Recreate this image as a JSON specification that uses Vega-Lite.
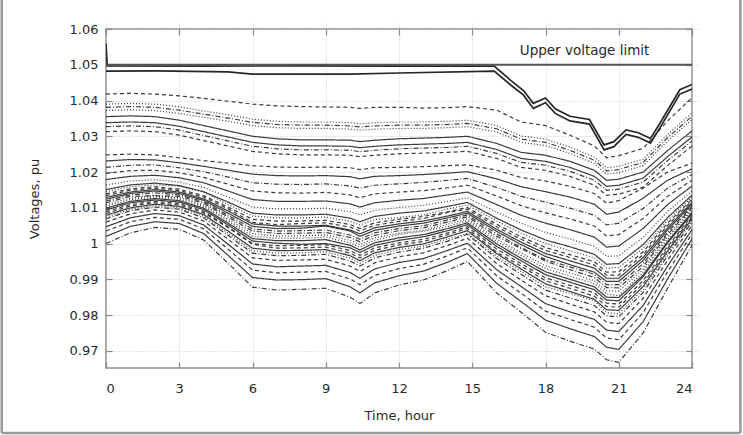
{
"$schema": "https://vega.github.io/schema/vega-lite/v6.json",
"width": 586, "height": 339,
"autosize": {"type": "none"},
"padding": {"left": 106, "top": 29, "right": 51, "bottom": 67},
"background": "white",
"config": {
 "font": "DejaVu Sans",
 "view": {"stroke": "#8a8a8a", "strokeWidth": 1.5},
 "axis": {"domain": false, "grid": true, "gridColor": "#c8c8c8", "gridDash": [1, 2], "gridWidth": 1, "ticks": true, "tickSize": 6, "offset": -6, "tickColor": "#888", "tickWidth": 1.2, "labelFontSize": 13, "labelColor": "#2a2a2a", "titleFontSize": 13, "titleFontWeight": "normal", "titleColor": "#2a2a2a", "labelFont": "DejaVu Sans", "titleFont": "DejaVu Sans"}
},
"resolve": {"axis": {"x": "independent", "y": "independent"}},
"datasets": {
 "lower": [
  {"t":0,"u1":1.0418,"u2":1.0390,"u3":1.0381,"u4":1.0372,"u5":1.0355,"u6":1.0338,"u7":1.0327,"u8":1.0313,"a1":1.0248,"a2":1.0231,"a3":1.0213,"a4":1.0196,"a5":1.0179,"a6":1.0164,"a7":1.0151,"a8":1.0139,"a9":1.0129,"a10":1.0119,"a11":1.0109,"a12":1.0099,"a13":1.0089,"a14":1.0079,"a15":1.0069,"a16":1.0060,"a17":1.0047,"a18":1.0035,"a19":1.0020,"a20":1.0000,"b1":1.0145,"b2":1.0134,"b3":1.0124,"b4":1.0114,"b5":1.0104,"b6":1.0094,"b7":1.0084,"b8":1.0074},
  {"t":1,"u1":1.0420,"u2":1.0392,"u3":1.0383,"u4":1.0374,"u5":1.0357,"u6":1.0340,"u7":1.0329,"u8":1.0315,"a1":1.0250,"a2":1.0235,"a3":1.0219,"a4":1.0204,"a5":1.0188,"a6":1.0175,"a7":1.0164,"a8":1.0153,"a9":1.0144,"a10":1.0136,"a11":1.0127,"a12":1.0118,"a13":1.0109,"a14":1.0100,"a15":1.0092,"a16":1.0083,"a17":1.0072,"a18":1.0061,"a19":1.0048,"a20":1.0030,"b1":1.0159,"b2":1.0149,"b3":1.0140,"b4":1.0132,"b5":1.0123,"b6":1.0114,"b7":1.0105,"b8":1.0096},
  {"t":2,"u1":1.0418,"u2":1.0390,"u3":1.0381,"u4":1.0372,"u5":1.0355,"u6":1.0338,"u7":1.0327,"u8":1.0313,"a1":1.0248,"a2":1.0234,"a3":1.0220,"a4":1.0205,"a5":1.0191,"a6":1.0179,"a7":1.0169,"a8":1.0159,"a9":1.0151,"a10":1.0142,"a11":1.0134,"a12":1.0126,"a13":1.0118,"a14":1.0110,"a15":1.0102,"a16":1.0094,"a17":1.0084,"a18":1.0073,"a19":1.0061,"a20":1.0045,"b1":1.0164,"b2":1.0155,"b3":1.0147,"b4":1.0134,"b5":1.0130,"b6":1.0122,"b7":1.0114,"b8":1.0106},
  {"t":3,"u1":1.0413,"u2":1.0382,"u3":1.0373,"u4":1.0364,"u5":1.0345,"u6":1.0328,"u7":1.0317,"u8":1.0303,"a1":1.0240,"a2":1.0226,"a3":1.0212,"a4":1.0198,"a5":1.0184,"a6":1.0172,"a7":1.0162,"a8":1.0152,"a9":1.0144,"a10":1.0136,"a11":1.0128,"a12":1.0120,"a13":1.0112,"a14":1.0104,"a15":1.0096,"a16":1.0088,"a17":1.0078,"a18":1.0068,"a19":1.0056,"a20":1.0040,"b1":1.0161,"b2":1.0148,"b3":1.0140,"b4":1.0132,"b5":1.0124,"b6":1.0116,"b7":1.0108,"b8":1.0100},
  {"t":4,"u1":1.0406,"u2":1.0371,"u3":1.0362,"u4":1.0353,"u5":1.0330,"u6":1.0313,"u7":1.0302,"u8":1.0288,"a1":1.0232,"a2":1.0216,"a3":1.0201,"a4":1.0185,"a5":1.0170,"a6":1.0157,"a7":1.0145,"a8":1.0134,"a9":1.0125,"a10":1.0117,"a11":1.0108,"a12":1.0099,"a13":1.0090,"a14":1.0081,"a15":1.0072,"a16":1.0063,"a17":1.0052,"a18":1.0041,"a19":1.0028,"a20":1.0010,"b1":1.0144,"b2":1.0130,"b3":1.0121,"b4":1.0113,"b5":1.0104,"b6":1.0095,"b7":1.0086,"b8":1.0077},
  {"t":5,"u1":1.0398,"u2":1.0360,"u3":1.0351,"u4":1.0342,"u5":1.0315,"u6":1.0298,"u7":1.0287,"u8":1.0273,"a1":1.0225,"a2":1.0205,"a3":1.0186,"a4":1.0166,"a5":1.0147,"a6":1.0130,"a7":1.0116,"a8":1.0102,"a9":1.0091,"a10":1.0079,"a11":1.0068,"a12":1.0057,"a13":1.0046,"a14":1.0035,"a15":1.0023,"a16":1.0012,"a17":0.9998,"a18":0.9984,"a19":0.9967,"a20":0.9945,"b1":1.0109,"b2":1.0097,"b3":1.0085,"b4":1.0074,"b5":1.0063,"b6":1.0052,"b7":1.0045,"b8":1.0029},
  {"t":6,"u1":1.0390,"u2":1.0348,"u3":1.0339,"u4":1.0330,"u5":1.0300,"u6":1.0283,"u7":1.0272,"u8":1.0258,"a1":1.0218,"a2":1.0194,"a3":1.0170,"a4":1.0147,"a5":1.0123,"a6":1.0102,"a7":1.0085,"a8":1.0068,"a9":1.0055,"a10":1.0041,"a11":1.0028,"a12":1.0014,"a13":1.0000,"a14":0.9987,"a15":0.9973,"a16":0.9960,"a17":0.9943,"a18":0.9926,"a19":0.9905,"a20":0.9878,"b1":1.0077,"b2":1.0059,"b3":1.0048,"b4":1.0035,"b5":1.0021,"b6":1.0007,"b7":0.9998,"b8":0.9980},
  {"t":7,"u1":1.0385,"u2":1.0342,"u3":1.0333,"u4":1.0324,"u5":1.0293,"u6":1.0276,"u7":1.0265,"u8":1.0251,"a1":1.0214,"a2":1.0190,"a3":1.0166,"a4":1.0142,"a5":1.0118,"a6":1.0097,"a7":1.0080,"a8":1.0063,"a9":1.0049,"a10":1.0035,"a11":1.0021,"a12":1.0008,"a13":0.9994,"a14":0.9980,"a15":0.9966,"a16":0.9953,"a17":0.9935,"a18":0.9918,"a19":0.9898,"a20":0.9870,"b1":1.0072,"b2":1.0053,"b3":1.0042,"b4":1.0028,"b5":1.0015,"b6":1.0001,"b7":0.9987,"b8":0.9973},
  {"t":8,"u1":1.0383,"u2":1.0340,"u3":1.0331,"u4":1.0322,"u5":1.0290,"u6":1.0273,"u7":1.0262,"u8":1.0248,"a1":1.0213,"a2":1.0189,"a3":1.0165,"a4":1.0141,"a5":1.0118,"a6":1.0097,"a7":1.0080,"a8":1.0063,"a9":1.0049,"a10":1.0036,"a11":1.0022,"a12":1.0008,"a13":0.9995,"a14":0.9981,"a15":0.9967,"a16":0.9954,"a17":0.9937,"a18":0.9920,"a19":0.9899,"a20":0.9872,"b1":1.0072,"b2":1.0056,"b3":1.0043,"b4":1.0029,"b5":1.0015,"b6":0.9998,"b7":0.9988,"b8":0.9974},
  {"t":9,"u1":1.0382,"u2":1.0340,"u3":1.0331,"u4":1.0322,"u5":1.0290,"u6":1.0273,"u7":1.0262,"u8":1.0248,"a1":1.0214,"a2":1.0190,"a3":1.0167,"a4":1.0143,"a5":1.0119,"a6":1.0099,"a7":1.0082,"a8":1.0065,"a9":1.0051,"a10":1.0038,"a11":1.0024,"a12":1.0011,"a13":0.9997,"a14":0.9983,"a15":0.9970,"a16":0.9956,"a17":0.9939,"a18":0.9922,"a19":0.9902,"a20":0.9875,"b1":1.0074,"b2":1.0058,"b3":1.0049,"b4":1.0031,"b5":1.0018,"b6":1.0000,"b7":0.9990,"b8":0.9977},
  {"t":10,"u1":1.0381,"u2":1.0338,"u3":1.0329,"u4":1.0320,"u5":1.0289,"u6":1.0272,"u7":1.0261,"u8":1.0247,"a1":1.0212,"a2":1.0187,"a3":1.0161,"a4":1.0136,"a5":1.0111,"a6":1.0089,"a7":1.0071,"a8":1.0053,"a9":1.0038,"a10":1.0024,"a11":1.0009,"a12":0.9995,"a13":0.9980,"a14":0.9966,"a15":0.9951,"a16":0.9937,"a17":0.9919,"a18":0.9901,"a19":0.9879,"a20":0.9850,"b1":1.0062,"b2":1.0046,"b3":1.0035,"b4":1.0017,"b5":1.0002,"b6":0.9988,"b7":0.9973,"b8":0.9959},
  {"t":10.4,"u1":1.0378,"u2":1.0335,"u3":1.0326,"u4":1.0317,"u5":1.0285,"u6":1.0268,"u7":1.0257,"u8":1.0243,"a1":1.0207,"a2":1.0181,"a3":1.0155,"a4":1.0128,"a5":1.0102,"a6":1.0080,"a7":1.0061,"a8":1.0042,"a9":1.0027,"a10":1.0012,"a11":0.9997,"a12":0.9982,"a13":0.9967,"a14":0.9952,"a15":0.9937,"a16":0.9922,"a17":0.9903,"a18":0.9885,"a19":0.9862,"a20":0.9832,"b1":1.0052,"b2":1.0035,"b3":1.0020,"b4":1.0005,"b5":0.9990,"b6":0.9975,"b7":0.9960,"b8":0.9945},
  {"t":11,"u1":1.0381,"u2":1.0338,"u3":1.0329,"u4":1.0320,"u5":1.0289,"u6":1.0272,"u7":1.0261,"u8":1.0247,"a1":1.0212,"a2":1.0188,"a3":1.0163,"a4":1.0139,"a5":1.0114,"a6":1.0093,"a7":1.0076,"a8":1.0058,"a9":1.0044,"a10":1.0030,"a11":1.0016,"a12":1.0002,"a13":0.9988,"a14":0.9974,"a15":0.9960,"a16":0.9946,"a17":0.9929,"a18":0.9911,"a19":0.9890,"a20":0.9862,"b1":1.0067,"b2":1.0051,"b3":1.0037,"b4":1.0023,"b5":1.0009,"b6":0.9995,"b7":0.9981,"b8":0.9967},
  {"t":12,"u1":1.0381,"u2":1.0340,"u3":1.0331,"u4":1.0322,"u5":1.0293,"u6":1.0276,"u7":1.0265,"u8":1.0251,"a1":1.0213,"a2":1.0190,"a3":1.0167,"a4":1.0144,"a5":1.0121,"a6":1.0101,"a7":1.0085,"a8":1.0068,"a9":1.0055,"a10":1.0042,"a11":1.0029,"a12":1.0016,"a13":1.0002,"a14":0.9989,"a15":0.9976,"a16":0.9963,"a17":0.9947,"a18":0.9930,"a19":0.9910,"a20":0.9884,"b1":1.0073,"b2":1.0062,"b3":1.0049,"b4":1.0036,"b5":1.0026,"b6":1.0009,"b7":0.9996,"b8":0.9983},
  {"t":13,"u1":1.0379,"u2":1.0340,"u3":1.0331,"u4":1.0322,"u5":1.0295,"u6":1.0278,"u7":1.0267,"u8":1.0253,"a1":1.0215,"a2":1.0193,"a3":1.0171,"a4":1.0148,"a5":1.0126,"a6":1.0107,"a7":1.0091,"a8":1.0076,"a9":1.0063,"a10":1.0050,"a11":1.0037,"a12":1.0025,"a13":1.0012,"a14":0.9999,"a15":0.9987,"a16":0.9974,"a17":0.9958,"a18":0.9942,"a19":0.9923,"a20":0.9898,"b1":1.0080,"b2":1.0070,"b3":1.0057,"b4":1.0044,"b5":1.0034,"b6":1.0019,"b7":1.0006,"b8":0.9993},
  {"t":14,"u1":1.0380,"u2":1.0342,"u3":1.0333,"u4":1.0324,"u5":1.0297,"u6":1.0280,"u7":1.0269,"u8":1.0255,"a1":1.0218,"a2":1.0197,"a3":1.0177,"a4":1.0156,"a5":1.0136,"a6":1.0118,"a7":1.0104,"a8":1.0089,"a9":1.0077,"a10":1.0066,"a11":1.0054,"a12":1.0042,"a13":1.0030,"a14":1.0019,"a15":1.0007,"a16":0.9995,"a17":0.9981,"a18":0.9966,"a19":0.9948,"a20":0.9925,"b1":1.0097,"b2":1.0087,"b3":1.0072,"b4":1.0060,"b5":1.0048,"b6":1.0036,"b7":1.0025,"b8":1.0013},
  {"t":14.8,"u1":1.0383,"u2":1.0345,"u3":1.0336,"u4":1.0327,"u5":1.0300,"u6":1.0283,"u7":1.0272,"u8":1.0258,"a1":1.0220,"a2":1.0201,"a3":1.0182,"a4":1.0163,"a5":1.0144,"a6":1.0128,"a7":1.0115,"a8":1.0101,"a9":1.0090,"a10":1.0080,"a11":1.0069,"a12":1.0058,"a13":1.0047,"a14":1.0036,"a15":1.0026,"a16":1.0015,"a17":1.0001,"a18":0.9988,"a19":0.9972,"a20":0.9950,"b1":1.0108,"b2":1.0096,"b3":1.0085,"b4":1.0075,"b5":1.0064,"b6":1.0053,"b7":1.0042,"b8":1.0028},
  {"t":16,"u1":1.0373,"u2":1.0330,"u3":1.0321,"u4":1.0312,"u5":1.0280,"u6":1.0263,"u7":1.0252,"u8":1.0238,"a1":1.0205,"a2":1.0181,"a3":1.0157,"a4":1.0133,"a5":1.0109,"a6":1.0088,"a7":1.0071,"a8":1.0054,"a9":1.0040,"a10":1.0027,"a11":1.0013,"a12":0.9999,"a13":0.9985,"a14":0.9972,"a15":0.9958,"a16":0.9944,"a17":0.9927,"a18":0.9910,"a19":0.9889,"a20":0.9862,"b1":1.0063,"b2":1.0047,"b3":1.0034,"b4":1.0020,"b5":1.0006,"b6":0.9992,"b7":0.9976,"b8":0.9965},
  {"t":17,"u1":1.0340,"u2":1.0301,"u3":1.0292,"u4":1.0283,"u5":1.0255,"u6":1.0238,"u7":1.0227,"u8":1.0213,"a1":1.0185,"a2":1.0159,"a3":1.0132,"a4":1.0106,"a5":1.0079,"a6":1.0057,"a7":1.0038,"a8":1.0019,"a9":1.0004,"a10":0.9989,"a11":0.9974,"a12":0.9959,"a13":0.9944,"a14":0.9929,"a15":0.9914,"a16":0.9898,"a17":0.9880,"a18":0.9861,"a19":0.9838,"a20":0.9808,"b1":1.0029,"b2":1.0012,"b3":0.9997,"b4":0.9986,"b5":0.9967,"b6":0.9952,"b7":0.9937,"b8":0.9922},
  {"t":18,"u1":1.0330,"u2":1.0292,"u3":1.0283,"u4":1.0274,"u5":1.0247,"u6":1.0230,"u7":1.0219,"u8":1.0205,"a1":1.0175,"a2":1.0145,"a3":1.0116,"a4":1.0086,"a5":1.0057,"a6":1.0031,"a7":1.0010,"a8":0.9989,"a9":0.9972,"a10":0.9955,"a11":0.9938,"a12":0.9921,"a13":0.9904,"a14":0.9887,"a15":0.9870,"a16":0.9854,"a17":0.9832,"a18":0.9811,"a19":0.9786,"a20":0.9752,"b1":1.0000,"b2":0.9981,"b3":0.9964,"b4":0.9951,"b5":0.9930,"b6":0.9913,"b7":0.9896,"b8":0.9879},
  {"t":19,"u1":1.0303,"u2":1.0270,"u3":1.0261,"u4":1.0252,"u5":1.0230,"u6":1.0213,"u7":1.0202,"u8":1.0188,"a1":1.0160,"a2":1.0130,"a3":1.0099,"a4":1.0069,"a5":1.0039,"a6":1.0013,"a7":0.9991,"a8":0.9969,"a9":0.9952,"a10":0.9935,"a11":0.9918,"a12":0.9900,"a13":0.9883,"a14":0.9866,"a15":0.9848,"a16":0.9831,"a17":0.9809,"a18":0.9788,"a19":0.9762,"a20":0.9727,"b1":0.9980,"b2":0.9961,"b3":0.9941,"b4":0.9927,"b5":0.9909,"b6":0.9892,"b7":0.9875,"b8":0.9861},
  {"t":20,"u1":1.0273,"u2":1.0242,"u3":1.0233,"u4":1.0224,"u5":1.0205,"u6":1.0188,"u7":1.0177,"u8":1.0163,"a1":1.0140,"a2":1.0110,"a3":1.0079,"a4":1.0049,"a5":1.0018,"a6":0.9992,"a7":0.9970,"a8":0.9949,"a9":0.9931,"a10":0.9914,"a11":0.9896,"a12":0.9879,"a13":0.9862,"a14":0.9844,"a15":0.9827,"a16":0.9809,"a17":0.9788,"a18":0.9766,"a19":0.9740,"a20":0.9705,"b1":0.9960,"b2":0.9940,"b3":0.9920,"b4":0.9905,"b5":0.9888,"b6":0.9871,"b7":0.9853,"b8":0.9840},
  {"t":20.5,"u1":1.0240,"u2":1.0212,"u3":1.0203,"u4":1.0194,"u5":1.0177,"u6":1.0160,"u7":1.0149,"u8":1.0135,"a1":1.0113,"a2":1.0082,"a3":1.0052,"a4":1.0021,"a5":0.9990,"a6":0.9964,"a7":0.9942,"a8":0.9920,"a9":0.9903,"a10":0.9885,"a11":0.9868,"a12":0.9850,"a13":0.9833,"a14":0.9815,"a15":0.9798,"a16":0.9780,"a17":0.9758,"a18":0.9736,"a19":0.9710,"a20":0.9675,"b1":0.9931,"b2":0.9912,"b3":0.9894,"b4":0.9877,"b5":0.9859,"b6":0.9842,"b7":0.9824,"b8":0.9807},
  {"t":21,"u1":1.0246,"u2":1.0216,"u3":1.0207,"u4":1.0198,"u5":1.0180,"u6":1.0163,"u7":1.0152,"u8":1.0138,"a1":1.0120,"a2":1.0088,"a3":1.0057,"a4":1.0025,"a5":0.9993,"a6":0.9966,"a7":0.9944,"a8":0.9921,"a9":0.9903,"a10":0.9885,"a11":0.9867,"a12":0.9849,"a13":0.9831,"a14":0.9813,"a15":0.9795,"a16":0.9776,"a17":0.9754,"a18":0.9731,"a19":0.9704,"a20":0.9668,"b1":0.9933,"b2":0.9912,"b3":0.9894,"b4":0.9876,"b5":0.9854,"b6":0.9840,"b7":0.9822,"b8":0.9804},
  {"t":22,"u1":1.0266,"u2":1.0236,"u3":1.0227,"u4":1.0218,"u5":1.0200,"u6":1.0183,"u7":1.0172,"u8":1.0158,"a1":1.0155,"a2":1.0127,"a3":1.0098,"a4":1.0070,"a5":1.0042,"a6":1.0017,"a7":0.9997,"a8":0.9977,"a9":0.9961,"a10":0.9944,"a11":0.9928,"a12":0.9912,"a13":0.9896,"a14":0.9880,"a15":0.9863,"a16":0.9847,"a17":0.9827,"a18":0.9807,"a19":0.9782,"a20":0.9750,"b1":0.9987,"b2":0.9969,"b3":0.9953,"b4":0.9936,"b5":0.9920,"b6":0.9907,"b7":0.9888,"b8":0.9872},
  {"t":23,"u1":1.0343,"u2":1.0305,"u3":1.0296,"u4":1.0287,"u5":1.0260,"u6":1.0243,"u7":1.0232,"u8":1.0218,"a1":1.0200,"a2":1.0177,"a3":1.0155,"a4":1.0132,"a5":1.0109,"a6":1.0090,"a7":1.0073,"a8":1.0057,"a9":1.0044,"a10":1.0031,"a11":1.0018,"a12":1.0005,"a13":0.9992,"a14":0.9979,"a15":0.9966,"a16":0.9953,"a17":0.9937,"a18":0.9921,"a19":0.9901,"a20":0.9875,"b1":1.0065,"b2":1.0051,"b3":1.0038,"b4":1.0025,"b5":1.0012,"b6":1.0002,"b7":0.9986,"b8":0.9973},
  {"t":24,"u1":1.0408,"u2":1.0365,"u3":1.0356,"u4":1.0347,"u5":1.0315,"u6":1.0298,"u7":1.0287,"u8":1.0273,"a1":1.0225,"a2":1.0209,"a3":1.0193,"a4":1.0177,"a5":1.0161,"a6":1.0147,"a7":1.0135,"a8":1.0124,"a9":1.0115,"a10":1.0105,"a11":1.0096,"a12":1.0087,"a13":1.0078,"a14":1.0069,"a15":1.0060,"a16":1.0051,"a17":1.0039,"a18":1.0027,"a19":1.0013,"a20":0.9995,"b1":1.0130,"b2":1.0120,"b3":1.0110,"b4":1.0101,"b5":1.0092,"b6":1.0083,"b7":1.0074,"b8":1.0065}
 ],
 "top": [
  {"s":"L1","t":0,"v":1.056},{"s":"L1","t":0.05,"v":1.0497},{"s":"L1","t":4,"v":1.0496},{"s":"L1","t":8,"v":1.0497},{"s":"L1","t":12,"v":1.0496},{"s":"L1","t":15.9,"v":1.0496},{"s":"L1","t":16.6,"v":1.0455},{"s":"L1","t":17.1,"v":1.0428},{"s":"L1","t":17.5,"v":1.0392},{"s":"L1","t":18.0,"v":1.0407},{"s":"L1","t":18.4,"v":1.0377},{"s":"L1","t":19.0,"v":1.0356},{"s":"L1","t":19.8,"v":1.0347},{"s":"L1","t":20.4,"v":1.0276},{"s":"L1","t":20.8,"v":1.0285},{"s":"L1","t":21.3,"v":1.0318},{"s":"L1","t":21.8,"v":1.0310},{"s":"L1","t":22.3,"v":1.0294},{"s":"L1","t":22.7,"v":1.0338},{"s":"L1","t":23.5,"v":1.0430},{"s":"L1","t":24,"v":1.0445},
  {"s":"L2","t":0,"v":1.0482},{"s":"L2","t":2,"v":1.0483},{"s":"L2","t":5,"v":1.0480},{"s":"L2","t":6,"v":1.0474},{"s":"L2","t":10,"v":1.0474},{"s":"L2","t":12,"v":1.0477},{"s":"L2","t":15.9,"v":1.0482},{"s":"L2","t":16.6,"v":1.0442},{"s":"L2","t":17.1,"v":1.0415},{"s":"L2","t":17.5,"v":1.0378},{"s":"L2","t":18.0,"v":1.0394},{"s":"L2","t":18.4,"v":1.0364},{"s":"L2","t":19.0,"v":1.0343},{"s":"L2","t":19.8,"v":1.0334},{"s":"L2","t":20.4,"v":1.0262},{"s":"L2","t":20.8,"v":1.0271},{"s":"L2","t":21.3,"v":1.0305},{"s":"L2","t":21.8,"v":1.0297},{"s":"L2","t":22.3,"v":1.0281},{"s":"L2","t":22.7,"v":1.0325},{"s":"L2","t":23.5,"v":1.0418},{"s":"L2","t":24,"v":1.0432}
 ]
},
"layer": [
 {"data": {"name": "lower"},
  "transform": [{"fold": ["u1","u2","u3","u4","u5","u6","u7","u8","a1","a2","a3","a4","a5","a6","a7","a8","a9","a10","a11","a12","a13","a14","a15","a16","a17","a18","a19","a20","b1","b2","b3","b4","b5","b6","b7","b8"], "as": ["series", "v"]}],
  "mark": {"type": "line", "strokeWidth": 1.2, "color": "#1a1a1a", "opacity": 0.85, "clip": true},
  "encoding": {
   "x": {"field": "t", "type": "quantitative", "scale": {"domain": [0, 24], "nice": false, "zero": false},
    "axis": {"values": [0, 3, 6, 9, 12, 15, 18, 21, 24], "title": "Time, hour", "labelPadding": 14, "titlePadding": 14}},
   "y": {"field": "v", "type": "quantitative", "scale": {"domain": [0.9652, 1.06], "nice": false, "zero": false},
    "axis": {"values": [0.97, 0.98, 0.99, 1, 1.01, 1.02, 1.03, 1.04, 1.05, 1.06], "format": "~g", "title": "Voltages, pu", "labelPadding": 8, "titlePadding": 28}},
   "detail": {"field": "series"},
   "strokeDash": {"field": "series", "type": "nominal", "legend": null,
    "scale": {"domain": ["u1","u2","u3","u4","u5","u6","u7","u8","a1","a2","a3","a4","a5","a6","a7","a8","a9","a10","a11","a12","a13","a14","a15","a16","a17","a18","a19","a20","b1","b2","b3","b4","b5","b6","b7","b8"],
     "range": [[4,3],[1,2],[5,2,1,2],[1,2],[1,0],[1,0],[5,2,1,2],[4,3],[4,3],[1,0],[5,2,1,2],[4,3],[1,0],[1,2],[1,0],[4,3],[1,0],[5,2,1,2],[1,2],[1,0],[4,3],[1,0],[5,2,1,2],[4,3],[1,0],[4,3],[1,0],[5,2,1,2],[1,2],[4,3],[1,0],[5,2,1,2],[1,2],[1,0],[4,3],[1,2]]}}
  }},
 {"data": {"name": "top"},
  "mark": {"type": "line", "strokeWidth": 1.7, "color": "#262626", "clip": true},
  "encoding": {
   "x": {"field": "t", "type": "quantitative", "axis": {"orient": "top", "values": [0, 3, 6, 9, 12, 15, 18, 21, 24], "labels": false, "title": null, "grid": false}},
   "y": {"field": "v", "type": "quantitative", "axis": {"orient": "right", "values": [0.97, 0.98, 0.99, 1, 1.01, 1.02, 1.03, 1.04, 1.05, 1.06], "labels": false, "title": null, "grid": false}},
   "detail": {"field": "s"}}},
 {"data": {"values": [{}]},
  "mark": {"type": "rule", "color": "#555", "strokeWidth": 2},
  "encoding": {"y": {"datum": 1.05, "type": "quantitative", "axis": null}}},
 {"data": {"values": [{}]},
  "mark": {"type": "text", "font": "DejaVu Sans", "fontSize": 13.5, "color": "#2a2a2a", "align": "center", "baseline": "middle"},
  "encoding": {"x": {"datum": 19.6, "type": "quantitative", "axis": null}, "y": {"datum": 1.0539, "type": "quantitative", "axis": null}, "text": {"value": "Upper voltage limit"}}},
 {"data": {"values": [{}]},
  "mark": {"type": "rule", "color": "#9a9a9a", "strokeWidth": 2.5, "clip": false},
  "encoding": {"x": {"datum": -4.27, "type": "quantitative", "axis": null}, "y": {"datum": 0.947, "type": "quantitative", "axis": null}, "y2": {"datum": 1.0685}}},
 {"data": {"values": [{}]},
  "mark": {"type": "rule", "color": "#9a9a9a", "strokeWidth": 2.5, "clip": false},
  "encoding": {"x": {"datum": 25.98, "type": "quantitative", "axis": null}, "y": {"datum": 0.947, "type": "quantitative", "axis": null}, "y2": {"datum": 1.0685}}},
 {"data": {"values": [{}]},
  "mark": {"type": "rule", "color": "#9a9a9a", "strokeWidth": 2.5, "clip": false},
  "encoding": {"y": {"datum": 0.947, "type": "quantitative", "axis": null}, "x": {"datum": -4.27, "type": "quantitative", "axis": null}, "x2": {"datum": 25.98}}}
]
}
